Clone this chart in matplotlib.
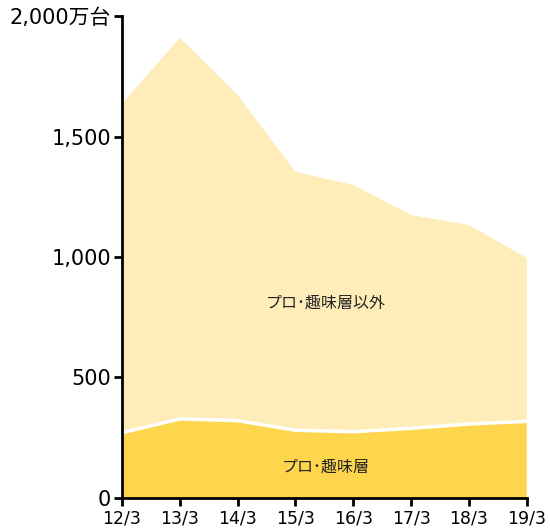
import matplotlib
matplotlib.use('Agg')
import matplotlib.pyplot as plt
import numpy as np

plt.rcParams['font.family'] = ['DejaVu Sans', 'Noto Sans CJK JP']

# data (万台)
periods = ['12/3', '13/3', '14/3', '15/3', '16/3', '17/3', '18/3', '19/3']
pro_hobby = [271, 328, 321, 281, 275, 289, 307, 318]
total = [1635, 1910, 1672, 1353, 1299, 1174, 1133, 996]
others = [t - p for t, p in zip(total, pro_hobby)]
yticks = [0, 500, 1000, 1500, 2000]
ytick_labels = ['0', '500', '1,000', '1,500', '2,000万台']

fig = plt.figure(figsize=(5.5, 5.3), dpi=100)
ax = fig.add_axes([0.2218, 0.0604, 0.736, 0.9094])

x = np.arange(len(periods))
ax.stackplot(x, pro_hobby, others, colors=['#FDD64E', '#FEEDB8'], linewidth=0)
ax.plot(x, pro_hobby, color='white', linewidth=2.5)

ax.text(3.52, 810, 'プロ･趣味層以外', ha='center', va='center', fontsize=11.5,
        family=['Noto Sans CJK JP', 'DejaVu Sans'], color='#222222')
ax.text(3.52, 130, 'プロ･趣味層', ha='center', va='center', fontsize=11.5,
        family=['Noto Sans CJK JP', 'DejaVu Sans'], color='#222222')

ax.set_xlim(0, len(periods) - 1)
ax.set_ylim(0, 2000)
ax.set_xticks(x)
ax.set_xticklabels(periods, fontsize=12.5)
ax.set_yticks(yticks)
ax.set_yticklabels(ytick_labels, fontsize=15)
for s in ['top', 'right']:
    ax.spines[s].set_visible(False)
for s in ['left', 'bottom']:
    ax.spines[s].set_linewidth(2)
    ax.spines[s].set_color('black')
ax.tick_params(direction='out', length=6, width=2, pad=2)

plt.savefig('out.png', dpi=100)
